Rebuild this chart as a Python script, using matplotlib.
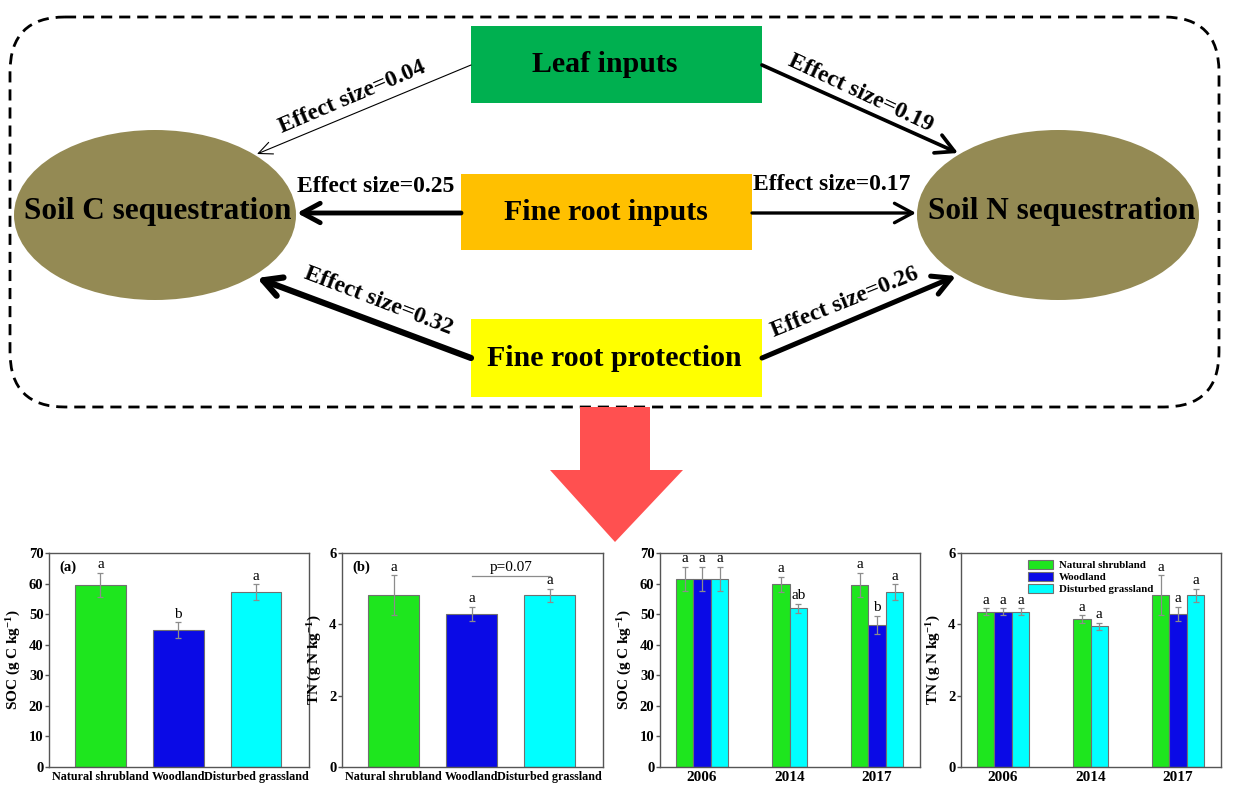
import numpy as np
import matplotlib
matplotlib.use("Agg")
import matplotlib.pyplot as plt
from matplotlib.patches import Ellipse, Rectangle, FancyBboxPatch, Polygon

plt.rcParams['font.family'] = 'Liberation Serif'
plt.rcParams['font.weight'] = 'bold'
plt.rcParams['axes.labelweight'] = 'bold'
plt.rcParams['mathtext.fontset'] = 'custom'
plt.rcParams['mathtext.rm'] = 'Liberation Serif:bold'
plt.rcParams['mathtext.bf'] = 'Liberation Serif:bold'
plt.rcParams['mathtext.it'] = 'Liberation Serif:bold'

# effect sizes shown in the conceptual diagram
effect_leaf_c, effect_leaf_n = 0.04, 0.19
effect_root_c, effect_root_n = 0.25, 0.17
effect_prot_c, effect_prot_n = 0.32, 0.26

# panels (a) and (b): 2017 values by vegetation type
vegetation = ["Natural shrubland", "Woodland", "Disturbed grassland"]
soc_2017 = [59.5, 44.8, 57.2]
soc_2017_err = [4.0, 2.5, 2.5]
soc_2017_letters = ["a", "b", "a"]
tn_2017 = [4.82, 4.30, 4.82]
tn_2017_err = [0.55, 0.20, 0.18]
tn_2017_letters = ["a", "a", "a"]

# panels (c) and (d): values per year (nan = not sampled)
years = ["2006", "2014", "2017"]
soc_shrub = [61.5, 59.7, 59.5]
soc_wood = [61.5, np.nan, 46.5]
soc_grass = [61.5, 51.9, 57.2]
soc_shrub_err = [4.0, 2.5, 4.0]
soc_wood_err = [4.0, np.nan, 3.0]
soc_grass_err = [4.0, 1.5, 2.5]
soc_letters = [["a", "a", "a"], ["a", "ab"], ["a", "b", "a"]]
tn_shrub = [4.35, 4.15, 4.82]
tn_wood = [4.35, np.nan, 4.30]
tn_grass = [4.35, 3.95, 4.82]
tn_shrub_err = [0.10, 0.10, 0.55]
tn_wood_err = [0.10, np.nan, 0.20]
tn_grass_err = [0.10, 0.10, 0.18]
tn_letters = [["a", "a", "a"], ["a", "a"], ["a", "a", "a"]]

bar_colors = ['#1EE61E', '#0A0AE6', '#00FFFF']
edge = '#707070'
err_color = '#8C8C8C'

W, H = 1234, 794
fig = plt.figure(figsize=(W / 100, H / 100), dpi=100)

# ---------- conceptual diagram, drawn in pixel coordinates ----------
ax0 = fig.add_axes([0, 0, 1, 1])
ax0.set_xlim(0, W)
ax0.set_ylim(H, 0)
ax0.axis('off')

frame = FancyBboxPatch((10, 17), 1209, 390, boxstyle="round,pad=0,rounding_size=55",
                       fill=False, ec='black', lw=2.0, ls=(0, (4, 2.5)))
ax0.add_patch(frame)

boxes = [("Leaf inputs", (471, 26, 291, 77), '#00B050', 605),
         ("Fine root inputs", (461, 174, 291, 76), '#FFC000', 606),
         ("Fine root protection", (471, 319, 291, 78), '#FFFF00', 614)]
for label, (x, y, w, h), c, tx in boxes:
    ax0.add_patch(Rectangle((x, y), w, h, fc=c, ec='none'))
    ax0.text(tx, y + h / 2, label, ha='center', va='center', fontsize=21.5)

for cx, tx, label in [(155, 158, "Soil C sequestration"), (1058, 1062, "Soil N sequestration")]:
    ax0.add_patch(Ellipse((cx, 215), 282, 170, fc='#948A54', ec='none'))
    ax0.text(tx, 212, label, ha='center', va='center', fontsize=22.5)

arrows = [
    (effect_leaf_c, (471, 65), (257, 154), (352, 97), 23),
    (effect_leaf_n, (762, 65), (958, 153), (861, 93), -25),
    (effect_root_c, (461, 213), (297, 213), (376, 186), 0),
    (effect_root_n, (752, 213), (916, 213), (832, 185), 0),
    (effect_prot_c, (471, 358), (257, 278), (378, 301), -21),
    (effect_prot_n, (762, 358), (956, 276), (845, 302), 22),
]
for eff, start, end, tpos, rot in arrows:
    lw = max(0.8, eff * 14)
    hl, hw = (1.0, 0.45) if lw < 1 else (1.3, 0.7)
    ax0.annotate('', xy=end, xytext=start,
                 arrowprops=dict(arrowstyle=f'->,head_length={hl},head_width={hw}',
                                 lw=lw, color='black', shrinkA=0, shrinkB=0,
                                 mutation_scale=10))
    ax0.text(tpos[0], tpos[1], f"Effect size={eff:.2f}", ha='center', va='center',
             rotation=rot, rotation_mode='anchor', fontsize=17)

ax0.add_patch(Polygon([(580, 407), (650, 407), (650, 470), (683, 470), (615, 542),
                       (550, 470), (580, 470)], closed=True, fc='#FF5050', ec='none'))


# ---------- bar panels ----------
def panel_axes(x0, x1, y0=553, y1=767):
    return fig.add_axes([x0 / W, 1 - y1 / H, (x1 - x0) / W, (y1 - y0) / H])


def style(ax, ymax, step, ylabel):
    ax.set_ylim(0, ymax)
    ax.set_yticks(np.arange(0, ymax + 0.01, step))
    for s in ax.spines.values():
        s.set_color('#555555')
        s.set_linewidth(1.0)
    ax.tick_params(axis='y', labelsize=10.5, length=3, width=1, color='#555555', pad=1)
    ax.tick_params(axis='x', labelsize=8.7, length=0, pad=3)
    ax.set_ylabel(ylabel, fontsize=11, labelpad=4)


def simple_panel(ax, vals, errs, letters, ymax, step, ylabel, tag):
    x = np.arange(len(vegetation))
    ax.bar(x, vals, width=0.65, color=bar_colors, edgecolor=edge, linewidth=0.8)
    ax.errorbar(x, vals, yerr=errs, fmt='none', ecolor=err_color, elinewidth=0.9,
                capsize=2.5, capthick=0.9)
    for xi, v, e, t in zip(x, vals, errs, letters):
        ax.text(xi, v + e + ymax * 0.008, t, ha='center', va='bottom',
                fontsize=11, fontweight='normal')
    ax.set_xticks(x)
    ax.set_xticklabels(vegetation)
    ax.set_xlim(-0.66, 2.68)
    style(ax, ymax, step, ylabel)
    ax.text(0.04, 0.965, tag, transform=ax.transAxes, ha='left', va='top', fontsize=10.5)


def year_panel(ax, series, errs, letters, ymax, step, ylabel, legend=False):
    w = 0.2
    x = np.arange(len(years))
    for g in range(len(years)):
        present = [i for i in range(3) if not np.isnan(series[i][g])]
        offs = (np.arange(len(present)) - (len(present) - 1) / 2) * w
        for k, (i, o) in enumerate(zip(present, offs)):
            v, e = series[i][g], errs[i][g]
            ax.bar(x[g] + o, v, width=w, color=bar_colors[i], edgecolor=edge, linewidth=0.8,
                   label=vegetation[i] if g == 0 else None)
            ax.errorbar(x[g] + o, v, yerr=e, fmt='none', ecolor=err_color, elinewidth=0.9,
                        capsize=2, capthick=0.9)
            ax.text(x[g] + o, v + e + ymax * 0.008, letters[g][k], ha='center', va='bottom',
                    fontsize=11, fontweight='normal')
    ax.set_xticks(x)
    ax.set_xticklabels(years)
    ax.set_xlim(-0.48, 2.49)
    style(ax, ymax, step, ylabel)
    ax.tick_params(axis='x', labelsize=11)
    if legend:
        ax.legend(loc='upper left', bbox_to_anchor=(0.23, 1.005), frameon=False, fontsize=7.8,
                  handlelength=2.3, handleheight=0.95, labelspacing=0.15, borderpad=0.2,
                  handletextpad=0.5)


ylab_soc = r'SOC (g C kg$^{-1}$)'
ylab_tn = r'TN (g N kg$^{-1}$)'

ax_a = panel_axes(49, 309)
simple_panel(ax_a, soc_2017, soc_2017_err, soc_2017_letters, 70, 10, ylab_soc, "(a)")

ax_b = panel_axes(342, 603)
simple_panel(ax_b, tn_2017, tn_2017_err, tn_2017_letters, 6, 2, ylab_tn, "(b)")
ax_b.plot([1, 2], [5.36, 5.36], color='#8C8C8C', lw=0.9)
ax_b.text(1.5, 5.42, "p=0.07", ha='center', va='bottom', fontsize=11, fontweight='normal')

ax_c = panel_axes(660, 920)
year_panel(ax_c, [soc_shrub, soc_wood, soc_grass], [soc_shrub_err, soc_wood_err, soc_grass_err],
           soc_letters, 70, 10, ylab_soc)

ax_d = panel_axes(961, 1221)
year_panel(ax_d, [tn_shrub, tn_wood, tn_grass], [tn_shrub_err, tn_wood_err, tn_grass_err],
           tn_letters, 6, 2, ylab_tn, legend=True)

fig.savefig("out.png", dpi=100)
